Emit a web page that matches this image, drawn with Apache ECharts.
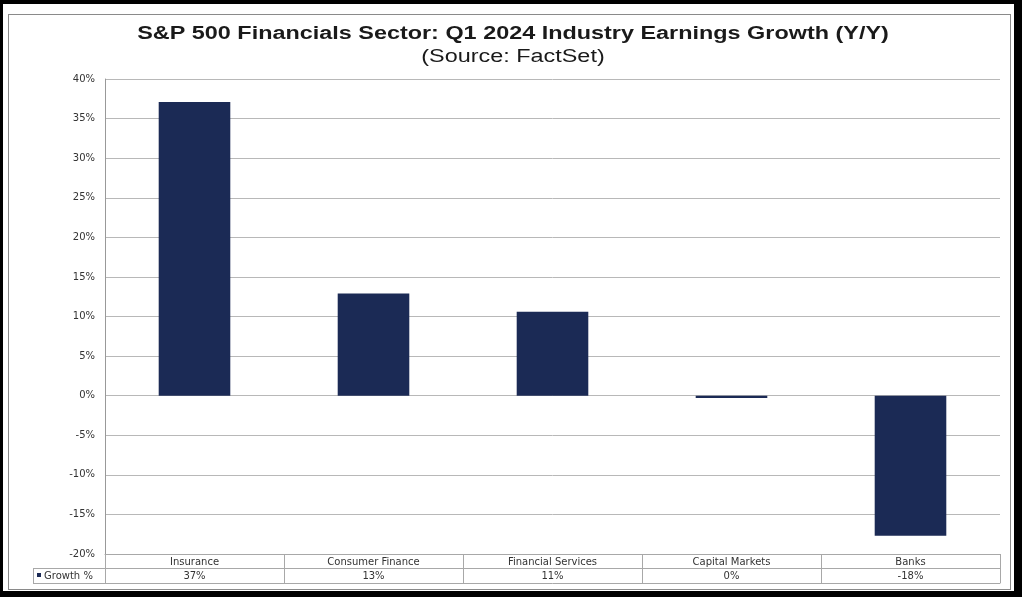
<!DOCTYPE html>
<html>
<head>
  <meta charset="utf-8">
  <script src="https://cdn.jsdelivr.net/npm/echarts@6/dist/echarts.min.js"></script>
  <title>S&P 500 Financials Sector</title>
  <style>
    body { margin: 0; background: #000; width: 1022px; height: 597px; overflow: hidden; }
    #paper { position: absolute; left: 3px; top: 4px; width: 1011px; height: 587px; background: #fff; }
    #frame { position: absolute; left: 8px; top: 14px; width: 1001px; height: 574px; border: 1px solid #8a8a8a; }
    #chart { position: absolute; left: 0; top: 0; width: 1022px; height: 597px; }
  </style>
</head>
<body>
  <div id="paper"></div>
  <div id="frame"></div>
  <div id="chart"></div>

  <script>
    const industries = ["Insurance", "Consumer Finance", "Financial Services", "Capital Markets", "Banks"];
    const growth = [37.1, 12.9, 10.6, -0.3, -17.7];
    const yTicks = { min: -20, max: 40, step: 5 };

    const font = "'Liberation Sans', Arial, sans-serif";
    const labelFont = "'DejaVu Sans', sans-serif";
    const lineGray = "#a8a8a8";
    const navy = "#1b2a55";

    const chart = echarts.init(document.getElementById("chart"));

    const option = {
      animation: false,
      grid: { left: 105, right: 22, top: 79, bottom: 43 },
      xAxis: [
        {
          type: "category",
          data: industries,
          position: "bottom",
          axisLine: { onZero: false, lineStyle: { color: lineGray } },
          axisTick: { show: true, interval: 0, length: 29, lineStyle: { color: lineGray } },
          axisLabel: { interval: 0, margin: 3, fontFamily: labelFont, fontSize: 10, color: "#333" },
        },
        {
          type: "category",
          data: industries,
          position: "bottom",
          offset: 14,
          axisLine: { onZero: false, lineStyle: { color: lineGray } },
          axisTick: { show: false },
          axisLabel: {
            interval: 0,
            margin: 3,
            fontFamily: labelFont,
            fontSize: 10,
            color: "#333",
            formatter: (v, i) => Math.round(growth[i]) + "%",
          },
        },
        {
          type: "category",
          data: industries,
          position: "bottom",
          offset: 29,
          axisLine: { onZero: false, lineStyle: { color: lineGray } },
          axisTick: { show: false },
          axisLabel: { show: false },
        },
      ],
      yAxis: {
        type: "value",
        min: yTicks.min,
        max: yTicks.max,
        interval: yTicks.step,
        axisLine: { show: true, lineStyle: { color: "#999" } },
        axisTick: { show: false },
        splitLine: { lineStyle: { color: "#b8b8b8" } },
        axisLabel: {
          margin: 10,
          fontFamily: labelFont,
          fontSize: 10,
          color: "#333",
          formatter: "{value}%",
        },
      },
      series: [
        {
          name: "Growth %",
          type: "bar",
          data: growth,
          barWidth: "40%",
          itemStyle: { color: navy },
        },
      ],
      graphic: [
        // title, stretched wide like the original picture
        {
          type: "text",
          x: 513,
          y: 34,
          scaleX: 1.3,
          style: {
            text: "S&P 500 Financials Sector: Q1 2024 Industry Earnings Growth (Y/Y)",
            font: "bold 18px " + font,
            fill: "#1a1a1a",
            textAlign: "center",
            textVerticalAlign: "middle",
          },
        },
        {
          type: "text",
          x: 513,
          y: 57,
          scaleX: 1.3,
          style: {
            text: "(Source: FactSet)",
            font: "18px " + font,
            fill: "#1a1a1a",
            textAlign: "center",
            textVerticalAlign: "middle",
          },
        },
        // legend cell of the data table
        { type: "line", shape: { x1: 33, y1: 568.5, x2: 105, y2: 568.5 }, style: { stroke: lineGray } },
        { type: "line", shape: { x1: 33, y1: 583.5, x2: 105, y2: 583.5 }, style: { stroke: lineGray } },
        { type: "line", shape: { x1: 33.5, y1: 568, x2: 33.5, y2: 584 }, style: { stroke: lineGray } },
        { type: "rect", shape: { x: 37, y: 573, width: 4, height: 4 }, style: { fill: navy } },
        {
          type: "text",
          x: 44,
          y: 576,
          style: { text: "Growth %", font: "10px " + labelFont, fill: "#333", textVerticalAlign: "middle" },
        },
      ],
    };

    chart.setOption(option);
  </script>
</body>
</html>
